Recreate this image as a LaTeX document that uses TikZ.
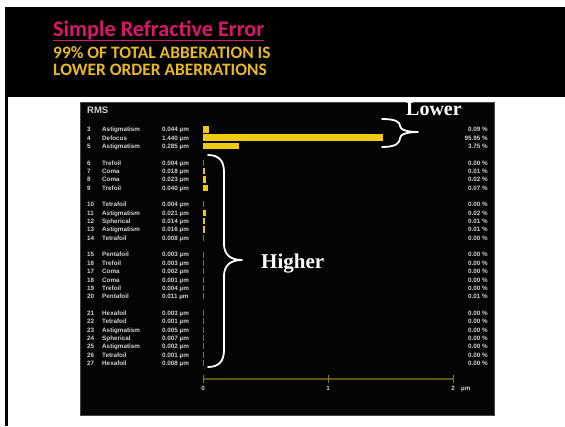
\documentclass[tikz,border=0pt]{standalone}
\usepackage{fontspec}
\newfontfamily\headfont{Carlito}
\newfontfamily\panelfont{Liberation Sans}
\newfontfamily\tagfont{Liberation Serif}

\definecolor{titlepink}{RGB}{220,22,108}
\definecolor{subgold}{RGB}{232,184,32}
\definecolor{baryellow}{RGB}{240,202,18}
\definecolor{bardim}{RGB}{125,118,26}
\definecolor{axisolive}{RGB}{92,86,24}
\definecolor{tickolive}{RGB}{128,124,34}
\definecolor{paneltext}{RGB}{210,210,210}
\definecolor{panelbg}{RGB}{4,4,4}
\definecolor{paneledge}{RGB}{70,70,70}

\tikzset{
  rowtext/.style={inner sep=0pt, text height=4.8pt, text depth=0pt,
    font=\panelfont\bfseries\fontsize{6.3}{7}\selectfont, text=paneltext},
  headline/.style={anchor=base west, inner sep=0pt},
  bracetag/.style={anchor=base west, inner sep=0pt, text=white,
    font=\tagfont\bfseries\fontsize{21}{24}\selectfont},
  bracestroke/.style={draw=white, line width=1.8pt, line cap=round, line join=round},
}

\begin{document}
\begin{tikzpicture}[x=1pt,y=-1pt]
\useasboundingbox (0,0) rectangle (565,426);
\fill[white] (0,0) rectangle (565,426);

% header band and left rule
\fill[black] (5,7) rectangle (565,97);
\fill[black] (4.5,97) rectangle (7.5,426);

\node[headline, text=titlepink, font=\headfont\bfseries\fontsize{22.2}{24}\selectfont]
  (title) at (53,36.5) {Simple Refractive Error};
\draw[titlepink, line width=1.4pt] ([yshift=-0.3pt]title.south west) -- ([yshift=-0.3pt]title.south east);
\node[headline, text=subgold, font=\headfont\bfseries\fontsize{17.4}{19}\selectfont]
  (sub1) at (53,58) {99\% OF TOTAL ABBERATION IS};
\node[headline, text=subgold, font=\headfont\bfseries\fontsize{17.4}{19}\selectfont]
  (sub2) at (53,75) {LOWER ORDER ABERRATIONS};

% RMS panel
\filldraw[fill=panelbg, draw=paneledge, line width=0.8pt] (80,102) rectangle (494,415);
\node[rowtext, anchor=west, text height=7pt, font=\panelfont\bfseries\fontsize{9.5}{11}\selectfont]
  (rms) at (87,110) {RMS};

\foreach \p/\n/\nm/\v/\pc in {
  0/3/Astigmatism/0.044/0.09,
  1/4/Defocus/1.440/95.95,
  2/5/Astigmatism/0.285/3.75,
  4/6/Trefoil/0.004/0.00,
  5/7/Coma/0.018/0.01,
  6/8/Coma/0.023/0.02,
  7/9/Trefoil/0.040/0.07,
  9/10/Tetrafoil/0.004/0.00,
  10/11/Astigmatism/0.021/0.02,
  11/12/Spherical/0.014/0.01,
  12/13/Astigmatism/0.016/0.01,
  13/14/Tetrafoil/0.008/0.00,
  15/15/Pentafoil/0.003/0.00,
  16/16/Trefoil/0.003/0.00,
  17/17/Coma/0.002/0.00,
  18/18/Coma/0.001/0.00,
  19/19/Trefoil/0.004/0.00,
  20/20/Pentafoil/0.011/0.01,
  22/21/Hexafoil/0.003/0.00,
  23/22/Tetrafoil/0.001/0.00,
  24/23/Astigmatism/0.005/0.00,
  25/24/Spherical/0.007/0.00,
  26/25/Astigmatism/0.002/0.00,
  27/26/Tetrafoil/0.001/0.00,
  28/27/Hexafoil/0.008/0.00}{
  \pgfmathsetmacro\ry{129.3+8.35*\p}
  \pgfmathsetmacro\bw{max(1.1,\v*125)}
  \node[rowtext, anchor=west] (num\n) at (87,\ry) {\n};
  \node[rowtext, anchor=west] (name\n) at (102,\ry) {\nm};
  \node[rowtext, anchor=west] (val\n) at (162,\ry) {\v~µm};
  \node[rowtext, anchor=east] (pct\n) at (488,\ry) {\pc~\%};
  \ifdim\v pt<0.012pt
    \fill[bardim] (203,\ry-3) rectangle ++(\bw,6);
  \else
    \fill[baryellow] (203,\ry-3.2) rectangle ++(\bw,6.4);
  \fi
}

% micrometre scale
\coordinate (ax0) at (203,379);
\coordinate (ax1) at (328,379);
\coordinate (ax2) at (453,379);
\draw[axisolive, line width=1.2pt] (ax0) -- (ax2);
\foreach \c in {ax0,ax1,ax2}
  \draw[tickolive, line width=1pt] ([yshift=4pt]\c) -- ([yshift=-4pt]\c);
\node[rowtext] (lab0) at (203,388.5) {0};
\node[rowtext] (lab1) at (328,388.5) {1};
\node[rowtext] (lab2) at (453,388.5) {2};
\node[rowtext, anchor=west] (labunit) at (461,388.5) {µm};

% brace marking the lower orders
\draw[bracestroke] (382,119) .. controls (396,119) and (400,122) .. (400,126)
  .. controls (400,130) and (408,132) .. (418,132)
  .. controls (408,132) and (400,134) .. (400,138)
  .. controls (400,143) and (396,147) .. (382,147);
\node[bracetag, font=\tagfont\bfseries\fontsize{20}{24}\selectfont] (lower) at (406,115) {Lower};

% brace marking the higher orders
\draw[bracestroke] (208,155) .. controls (219,155) and (224,161) .. (224,172)
  -- (224,244) .. controls (224,255) and (231,260) .. (242,260)
  .. controls (231,260) and (224,265) .. (224,276)
  -- (224,350) .. controls (224,361) and (219,367) .. (208,367);
\node[bracetag] (higher) at (261,268) {Higher};
\end{tikzpicture}
\end{document}
